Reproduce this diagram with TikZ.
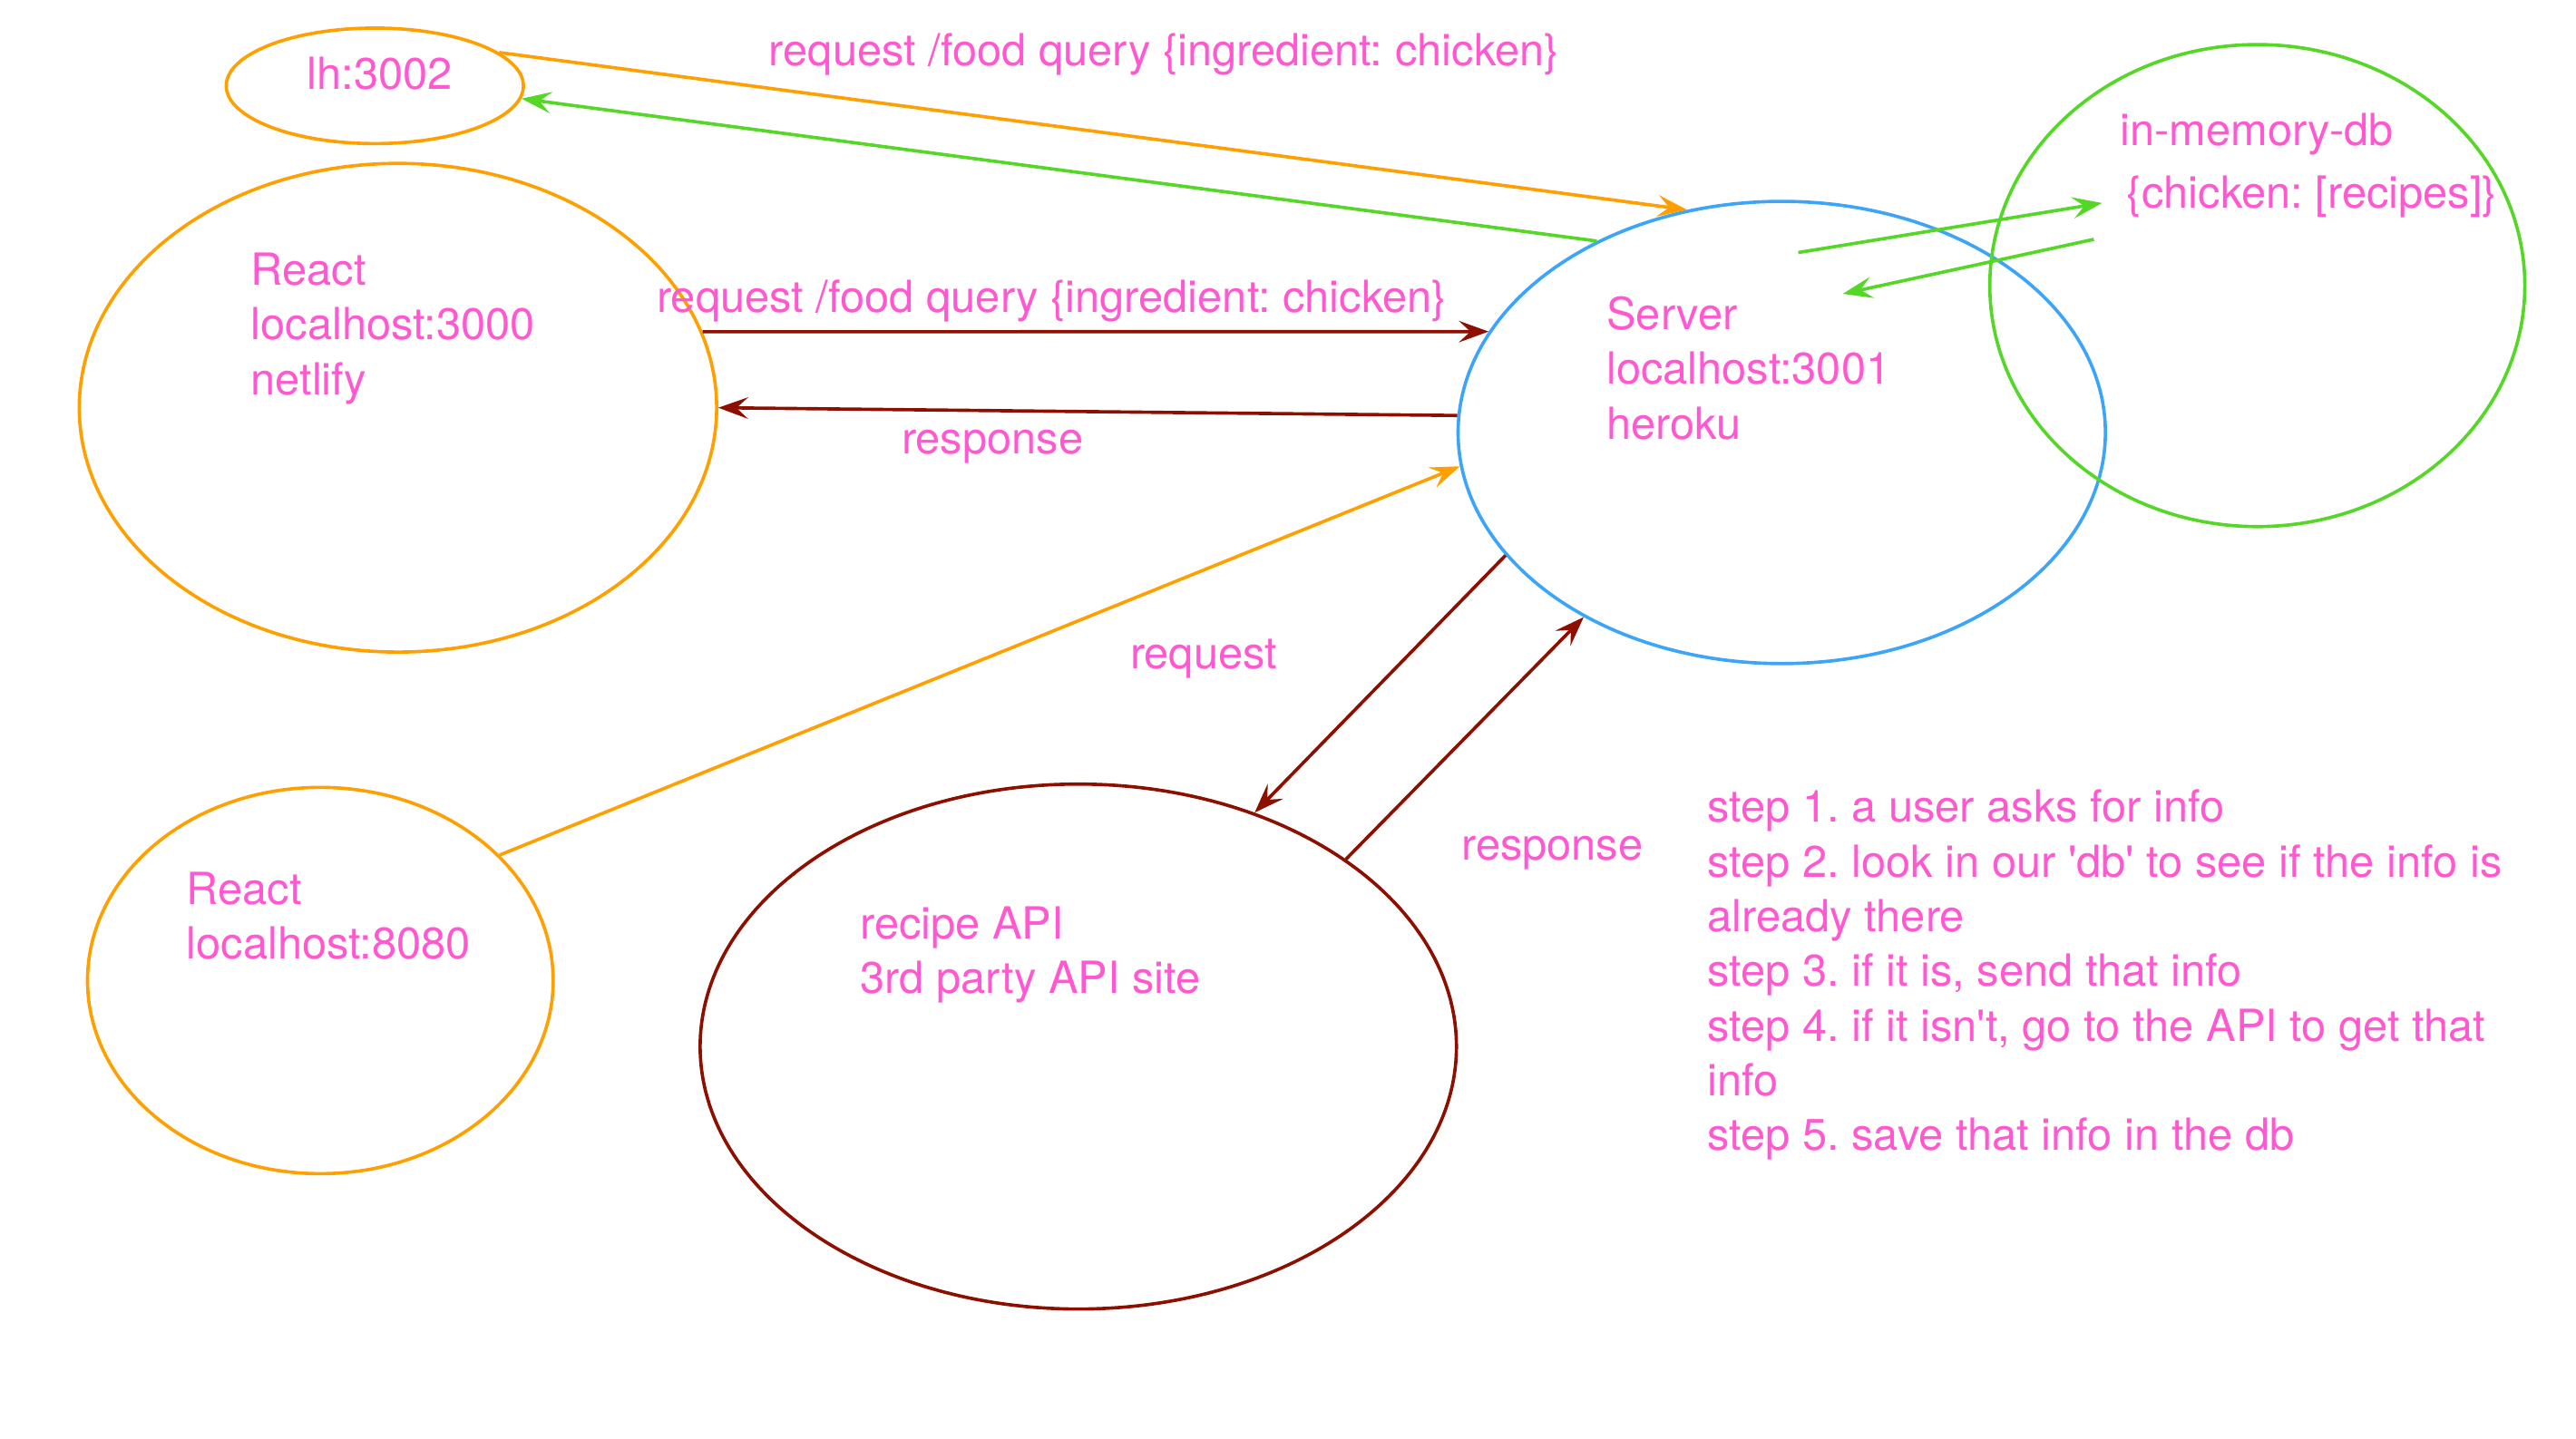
\documentclass[tikz,border=0pt]{standalone}
\usepackage{fontspec}
\setmainfont{TeX Gyre Heros}
\usetikzlibrary{arrows.meta,shapes.geometric}
\definecolor{txtpink}{RGB}{255,88,208}
\definecolor{reactorange}{RGB}{255,160,0}
\definecolor{dbgreen}{RGB}{85,215,40}
\definecolor{serverblue}{RGB}{60,165,250}
\definecolor{apired}{RGB}{140,15,0}
\frenchspacing
\begin{document}
\begin{tikzpicture}[->,>={Stealth[length=9pt,width=6.5pt,inset=3.5pt]},x=0.5pt,y=-0.5pt,line width=1pt]
	\tikzstyle{app} = [ellipse,draw,inner sep=0pt]
	\tikzstyle{txt} = [text=txtpink,inner sep=0pt,align=left,font=\fontsize{13.4}{16.58}\selectfont]

	\useasboundingbox (0,0) rectangle (1560,871.2);

	% ellipses
	\node[app,draw=reactorange,minimum width=90pt,minimum height=35pt] (lh) at (227,52) {};
	\node[app,draw=reactorange,minimum width=193pt,minimum height=148pt] (r3000) at (241,247) {};
	\node[app,draw=serverblue,minimum width=196pt,minimum height=140pt] (server) at (1079,262) {};
	\node[app,draw=dbgreen,minimum width=162pt,minimum height=146pt] (db) at (1367,173) {};
	\node[app,draw=reactorange,minimum width=141pt,minimum height=117pt] (r8080) at (194,594) {};
	\node[app,draw=apired,minimum width=229pt,minimum height=159pt] (api) at (653,634) {};

	% texts (base = last line)
	\node[txt,anchor=base] (lhtxt) at (230,54) {lh:3002};
	\node[txt,anchor=base west] (r3000txt) at (151,239) {React\\localhost:3000\\netlify};
	\node[txt,anchor=base west] (servertxt) at (972,266) {Server\\localhost:3001\\heroku};
	\node[txt,anchor=base west] (dbtxt) at (1283,88) {in-memory-db};
	\node[txt,anchor=base west] (dbdata) at (1287,126) {\{chicken: [recipes]\}};
	\node[txt,anchor=base west] (r8080txt) at (112,581) {React\\localhost:8080};
	\node[txt,anchor=base west] (apitxt) at (520,602) {recipe API\\3rd party API site};
	\node[txt,anchor=base west] (steps) at (1033,697) {step 1. a user asks for info\\step 2. look in our \textquotesingle db\textquotesingle\ to see if the info is\\already there\\step 3. if it is, send that info\\step 4. if it isn\textquotesingle t, go to the API to get that\\info\\step 5. save that info in the db};

	% labels
	\node[txt,anchor=base] (lbltop) at (705,40) {request /food query \{ingredient: chicken\}};
	\node[txt,anchor=base] (lblreq) at (637,189) {request /food query \{ingredient: chicken\}};
	\node[txt,anchor=base] (lblresp) at (601,275) {response};
	\node[txt,anchor=base] (lblreq2) at (729,405) {request};
	\node[txt,anchor=base] (lblresp2) at (940,521) {response};

	% arrows
	\path[draw=reactorange] (lh.15) -- (server.113);
	\path[draw=dbgreen] (server.134) -- (lh.-5);
	\path[draw=apired] (r3000.14) -- (server.161);
	\path[draw=apired] (server.177) -- (r3000.0);
	\path[draw=reactorange] (r8080.35) -- (server.186);
	\path[draw=apired] (server.204) -- (api.53);
	\path[draw=apired] (api.35) -- (server.223);

	\coordinate (srvout) at (1089,153);
	\coordinate (dbin) at (1273,123);
	\coordinate (dbout) at (1268,145);
	\coordinate (srvin) at (1116,178);
	\path[draw=dbgreen] (srvout) -- (dbin);
	\path[draw=dbgreen] (dbout) -- (srvin);
\end{tikzpicture}
\end{document}
